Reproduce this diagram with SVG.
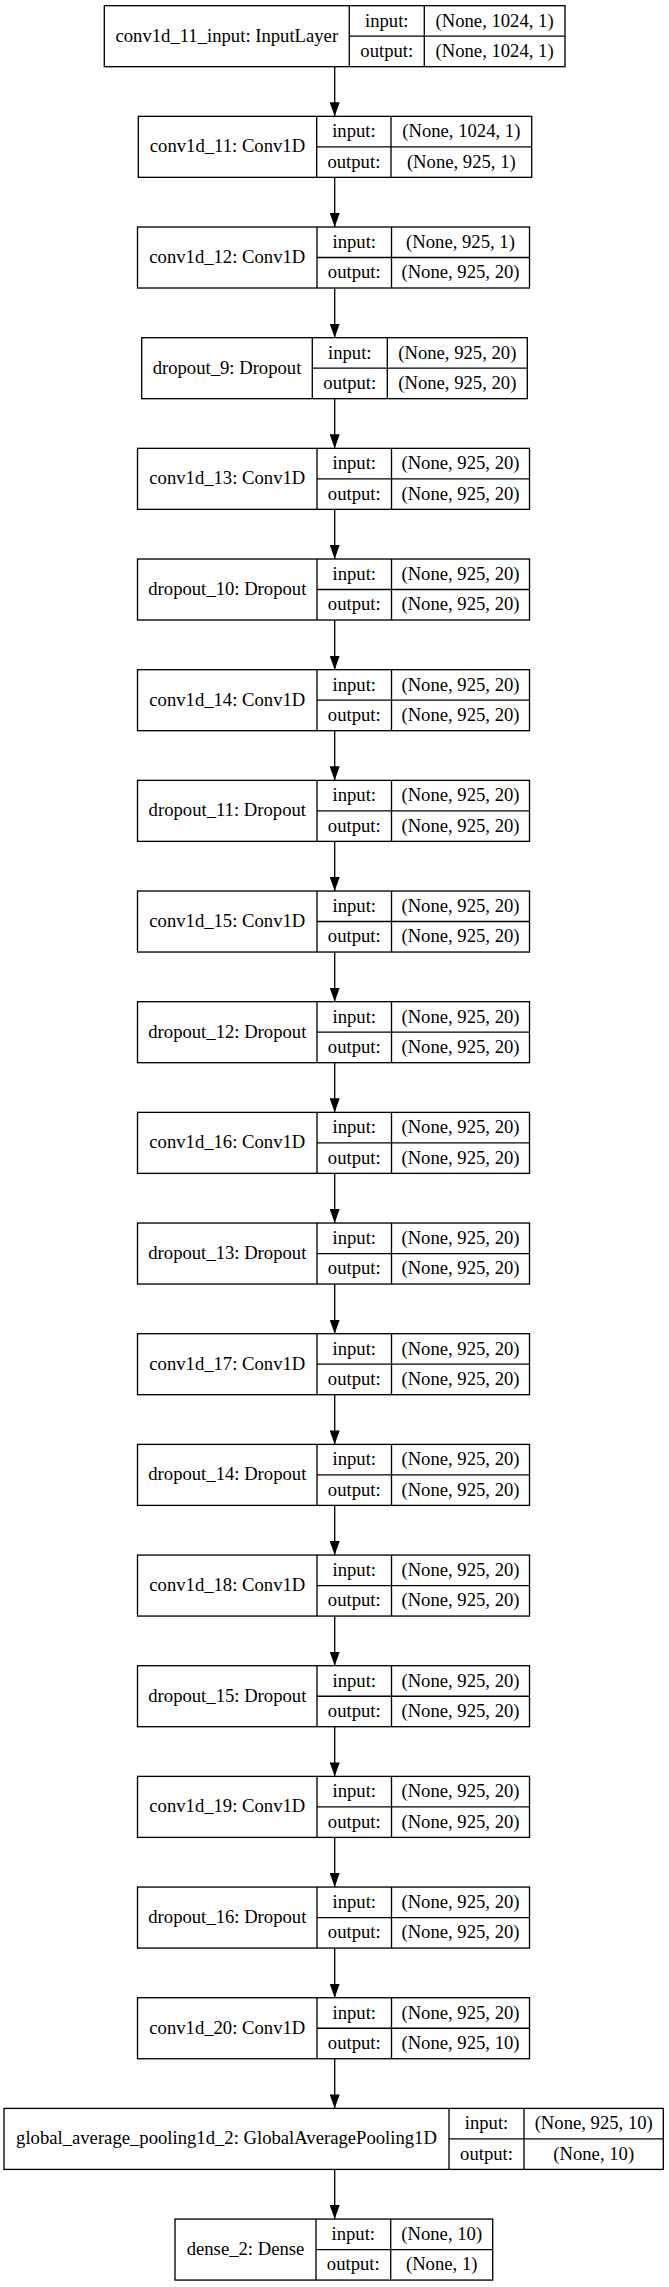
<svg xmlns="http://www.w3.org/2000/svg" width="669" height="2287" viewBox="0 0 669 2287">
<style>
rect.box{fill:#ffffff;stroke:#000000;stroke-width:1.33}
line.div{stroke:#000000;stroke-width:1.33}
text{font-family:"Liberation Serif","Times New Roman",serif;font-size:18.67px;fill:#000000;text-anchor:middle}
.edge{stroke:#000000;stroke-width:1.33;fill:none;marker-end:url(#arr)}
</style>
<defs>
<marker id="arr" markerUnits="userSpaceOnUse" viewBox="0 0 14 10" refX="14" refY="5" markerWidth="14" markerHeight="10" orient="auto">
<path d="M0,0 L14,5 L0,10 z" fill="#000000"/>
</marker>
</defs>
<rect width="669" height="2287" fill="#ffffff"/>
<g id="connectors">
<line class="edge" x1="334.7" y1="66.67" x2="334.7" y2="116.34"/>
<line class="edge" x1="334.7" y1="177.34" x2="334.7" y2="227.01"/>
<line class="edge" x1="334.7" y1="288.01" x2="334.7" y2="337.68"/>
<line class="edge" x1="334.7" y1="398.68" x2="334.7" y2="448.35"/>
<line class="edge" x1="334.7" y1="509.35" x2="334.7" y2="559.02"/>
<line class="edge" x1="334.7" y1="620.02" x2="334.7" y2="669.69"/>
<line class="edge" x1="334.7" y1="730.69" x2="334.7" y2="780.36"/>
<line class="edge" x1="334.7" y1="841.36" x2="334.7" y2="891.03"/>
<line class="edge" x1="334.7" y1="952.03" x2="334.7" y2="1001.70"/>
<line class="edge" x1="334.7" y1="1062.70" x2="334.7" y2="1112.37"/>
<line class="edge" x1="334.7" y1="1173.37" x2="334.7" y2="1223.04"/>
<line class="edge" x1="334.7" y1="1284.04" x2="334.7" y2="1333.71"/>
<line class="edge" x1="334.7" y1="1394.71" x2="334.7" y2="1444.38"/>
<line class="edge" x1="334.7" y1="1505.38" x2="334.7" y2="1555.05"/>
<line class="edge" x1="334.7" y1="1616.05" x2="334.7" y2="1665.72"/>
<line class="edge" x1="334.7" y1="1726.72" x2="334.7" y2="1776.39"/>
<line class="edge" x1="334.7" y1="1837.39" x2="334.7" y2="1887.06"/>
<line class="edge" x1="334.7" y1="1948.06" x2="334.7" y2="1997.73"/>
<line class="edge" x1="334.7" y1="2058.73" x2="334.7" y2="2108.40"/>
<line class="edge" x1="334.7" y1="2169.40" x2="334.7" y2="2219.07"/>
</g>

<g id="conv1d_11_input" transform="translate(0,5.67)">
<rect class="box" x="104.3" y="0" width="460.7" height="61"/>
<line class="div" x1="349.3" y1="0" x2="349.3" y2="61"/>
<line class="div" x1="424.3" y1="0" x2="424.3" y2="61"/>
<line class="div" x1="349.3" y1="30.5" x2="565" y2="30.5"/>
<text x="226.8" y="36.1">conv1d_11_input: InputLayer</text>
<text x="386.8" y="20.9">input:</text>
<text x="386.8" y="51.4">output:</text>
<text x="494.6" y="20.9">(None, 1024, 1)</text>
<text x="494.6" y="51.4">(None, 1024, 1)</text>
</g>

<g id="conv1d_11" transform="translate(0,116.34)">
<rect class="box" x="138.3" y="0" width="393.4" height="61"/>
<line class="div" x1="316.7" y1="0" x2="316.7" y2="61"/>
<line class="div" x1="391" y1="0" x2="391" y2="61"/>
<line class="div" x1="316.7" y1="30.5" x2="531.7" y2="30.5"/>
<text x="227.5" y="36.1">conv1d_11: Conv1D</text>
<text x="353.9" y="20.9">input:</text>
<text x="353.9" y="51.4">output:</text>
<text x="461.3" y="20.9">(None, 1024, 1)</text>
<text x="461.3" y="51.4">(None, 925, 1)</text>
</g>

<g id="conv1d_12" transform="translate(0,227.01)">
<rect class="box" x="137.5" y="0" width="392" height="61"/>
<line class="div" x1="317" y1="0" x2="317" y2="61"/>
<line class="div" x1="391.5" y1="0" x2="391.5" y2="61"/>
<line class="div" x1="317" y1="30.5" x2="529.5" y2="30.5"/>
<text x="227.3" y="36.1">conv1d_12: Conv1D</text>
<text x="354.3" y="20.9">input:</text>
<text x="354.3" y="51.4">output:</text>
<text x="460.5" y="20.9">(None, 925, 1)</text>
<text x="460.5" y="51.4">(None, 925, 20)</text>
</g>

<g id="dropout_9" transform="translate(0,337.68)">
<rect class="box" x="141.7" y="0" width="385.6" height="61"/>
<line class="div" x1="312.3" y1="0" x2="312.3" y2="61"/>
<line class="div" x1="387.3" y1="0" x2="387.3" y2="61"/>
<line class="div" x1="312.3" y1="30.5" x2="527.3" y2="30.5"/>
<text x="227" y="36.1">dropout_9: Dropout</text>
<text x="349.8" y="20.9">input:</text>
<text x="349.8" y="51.4">output:</text>
<text x="457.3" y="20.9">(None, 925, 20)</text>
<text x="457.3" y="51.4">(None, 925, 20)</text>
</g>

<g id="conv1d_13" transform="translate(0,448.35)">
<rect class="box" x="137.5" y="0" width="392" height="61"/>
<line class="div" x1="317" y1="0" x2="317" y2="61"/>
<line class="div" x1="391.5" y1="0" x2="391.5" y2="61"/>
<line class="div" x1="317" y1="30.5" x2="529.5" y2="30.5"/>
<text x="227.3" y="36.1">conv1d_13: Conv1D</text>
<text x="354.3" y="20.9">input:</text>
<text x="354.3" y="51.4">output:</text>
<text x="460.5" y="20.9">(None, 925, 20)</text>
<text x="460.5" y="51.4">(None, 925, 20)</text>
</g>

<g id="dropout_10" transform="translate(0,559.02)">
<rect class="box" x="137.5" y="0" width="392" height="61"/>
<line class="div" x1="317" y1="0" x2="317" y2="61"/>
<line class="div" x1="391.5" y1="0" x2="391.5" y2="61"/>
<line class="div" x1="317" y1="30.5" x2="529.5" y2="30.5"/>
<text x="227.3" y="36.1">dropout_10: Dropout</text>
<text x="354.3" y="20.9">input:</text>
<text x="354.3" y="51.4">output:</text>
<text x="460.5" y="20.9">(None, 925, 20)</text>
<text x="460.5" y="51.4">(None, 925, 20)</text>
</g>

<g id="conv1d_14" transform="translate(0,669.69)">
<rect class="box" x="137.5" y="0" width="392" height="61"/>
<line class="div" x1="317" y1="0" x2="317" y2="61"/>
<line class="div" x1="391.5" y1="0" x2="391.5" y2="61"/>
<line class="div" x1="317" y1="30.5" x2="529.5" y2="30.5"/>
<text x="227.3" y="36.1">conv1d_14: Conv1D</text>
<text x="354.3" y="20.9">input:</text>
<text x="354.3" y="51.4">output:</text>
<text x="460.5" y="20.9">(None, 925, 20)</text>
<text x="460.5" y="51.4">(None, 925, 20)</text>
</g>

<g id="dropout_11" transform="translate(0,780.36)">
<rect class="box" x="137.5" y="0" width="392" height="61"/>
<line class="div" x1="317" y1="0" x2="317" y2="61"/>
<line class="div" x1="391.5" y1="0" x2="391.5" y2="61"/>
<line class="div" x1="317" y1="30.5" x2="529.5" y2="30.5"/>
<text x="227.3" y="36.1">dropout_11: Dropout</text>
<text x="354.3" y="20.9">input:</text>
<text x="354.3" y="51.4">output:</text>
<text x="460.5" y="20.9">(None, 925, 20)</text>
<text x="460.5" y="51.4">(None, 925, 20)</text>
</g>

<g id="conv1d_15" transform="translate(0,891.03)">
<rect class="box" x="137.5" y="0" width="392" height="61"/>
<line class="div" x1="317" y1="0" x2="317" y2="61"/>
<line class="div" x1="391.5" y1="0" x2="391.5" y2="61"/>
<line class="div" x1="317" y1="30.5" x2="529.5" y2="30.5"/>
<text x="227.3" y="36.1">conv1d_15: Conv1D</text>
<text x="354.3" y="20.9">input:</text>
<text x="354.3" y="51.4">output:</text>
<text x="460.5" y="20.9">(None, 925, 20)</text>
<text x="460.5" y="51.4">(None, 925, 20)</text>
</g>

<g id="dropout_12" transform="translate(0,1001.70)">
<rect class="box" x="137.5" y="0" width="392" height="61"/>
<line class="div" x1="317" y1="0" x2="317" y2="61"/>
<line class="div" x1="391.5" y1="0" x2="391.5" y2="61"/>
<line class="div" x1="317" y1="30.5" x2="529.5" y2="30.5"/>
<text x="227.3" y="36.1">dropout_12: Dropout</text>
<text x="354.3" y="20.9">input:</text>
<text x="354.3" y="51.4">output:</text>
<text x="460.5" y="20.9">(None, 925, 20)</text>
<text x="460.5" y="51.4">(None, 925, 20)</text>
</g>

<g id="conv1d_16" transform="translate(0,1112.37)">
<rect class="box" x="137.5" y="0" width="392" height="61"/>
<line class="div" x1="317" y1="0" x2="317" y2="61"/>
<line class="div" x1="391.5" y1="0" x2="391.5" y2="61"/>
<line class="div" x1="317" y1="30.5" x2="529.5" y2="30.5"/>
<text x="227.3" y="36.1">conv1d_16: Conv1D</text>
<text x="354.3" y="20.9">input:</text>
<text x="354.3" y="51.4">output:</text>
<text x="460.5" y="20.9">(None, 925, 20)</text>
<text x="460.5" y="51.4">(None, 925, 20)</text>
</g>

<g id="dropout_13" transform="translate(0,1223.04)">
<rect class="box" x="137.5" y="0" width="392" height="61"/>
<line class="div" x1="317" y1="0" x2="317" y2="61"/>
<line class="div" x1="391.5" y1="0" x2="391.5" y2="61"/>
<line class="div" x1="317" y1="30.5" x2="529.5" y2="30.5"/>
<text x="227.3" y="36.1">dropout_13: Dropout</text>
<text x="354.3" y="20.9">input:</text>
<text x="354.3" y="51.4">output:</text>
<text x="460.5" y="20.9">(None, 925, 20)</text>
<text x="460.5" y="51.4">(None, 925, 20)</text>
</g>

<g id="conv1d_17" transform="translate(0,1333.71)">
<rect class="box" x="137.5" y="0" width="392" height="61"/>
<line class="div" x1="317" y1="0" x2="317" y2="61"/>
<line class="div" x1="391.5" y1="0" x2="391.5" y2="61"/>
<line class="div" x1="317" y1="30.5" x2="529.5" y2="30.5"/>
<text x="227.3" y="36.1">conv1d_17: Conv1D</text>
<text x="354.3" y="20.9">input:</text>
<text x="354.3" y="51.4">output:</text>
<text x="460.5" y="20.9">(None, 925, 20)</text>
<text x="460.5" y="51.4">(None, 925, 20)</text>
</g>

<g id="dropout_14" transform="translate(0,1444.38)">
<rect class="box" x="137.5" y="0" width="392" height="61"/>
<line class="div" x1="317" y1="0" x2="317" y2="61"/>
<line class="div" x1="391.5" y1="0" x2="391.5" y2="61"/>
<line class="div" x1="317" y1="30.5" x2="529.5" y2="30.5"/>
<text x="227.3" y="36.1">dropout_14: Dropout</text>
<text x="354.3" y="20.9">input:</text>
<text x="354.3" y="51.4">output:</text>
<text x="460.5" y="20.9">(None, 925, 20)</text>
<text x="460.5" y="51.4">(None, 925, 20)</text>
</g>

<g id="conv1d_18" transform="translate(0,1555.05)">
<rect class="box" x="137.5" y="0" width="392" height="61"/>
<line class="div" x1="317" y1="0" x2="317" y2="61"/>
<line class="div" x1="391.5" y1="0" x2="391.5" y2="61"/>
<line class="div" x1="317" y1="30.5" x2="529.5" y2="30.5"/>
<text x="227.3" y="36.1">conv1d_18: Conv1D</text>
<text x="354.3" y="20.9">input:</text>
<text x="354.3" y="51.4">output:</text>
<text x="460.5" y="20.9">(None, 925, 20)</text>
<text x="460.5" y="51.4">(None, 925, 20)</text>
</g>

<g id="dropout_15" transform="translate(0,1665.72)">
<rect class="box" x="137.5" y="0" width="392" height="61"/>
<line class="div" x1="317" y1="0" x2="317" y2="61"/>
<line class="div" x1="391.5" y1="0" x2="391.5" y2="61"/>
<line class="div" x1="317" y1="30.5" x2="529.5" y2="30.5"/>
<text x="227.3" y="36.1">dropout_15: Dropout</text>
<text x="354.3" y="20.9">input:</text>
<text x="354.3" y="51.4">output:</text>
<text x="460.5" y="20.9">(None, 925, 20)</text>
<text x="460.5" y="51.4">(None, 925, 20)</text>
</g>

<g id="conv1d_19" transform="translate(0,1776.39)">
<rect class="box" x="137.5" y="0" width="392" height="61"/>
<line class="div" x1="317" y1="0" x2="317" y2="61"/>
<line class="div" x1="391.5" y1="0" x2="391.5" y2="61"/>
<line class="div" x1="317" y1="30.5" x2="529.5" y2="30.5"/>
<text x="227.3" y="36.1">conv1d_19: Conv1D</text>
<text x="354.3" y="20.9">input:</text>
<text x="354.3" y="51.4">output:</text>
<text x="460.5" y="20.9">(None, 925, 20)</text>
<text x="460.5" y="51.4">(None, 925, 20)</text>
</g>

<g id="dropout_16" transform="translate(0,1887.06)">
<rect class="box" x="137.5" y="0" width="392" height="61"/>
<line class="div" x1="317" y1="0" x2="317" y2="61"/>
<line class="div" x1="391.5" y1="0" x2="391.5" y2="61"/>
<line class="div" x1="317" y1="30.5" x2="529.5" y2="30.5"/>
<text x="227.3" y="36.1">dropout_16: Dropout</text>
<text x="354.3" y="20.9">input:</text>
<text x="354.3" y="51.4">output:</text>
<text x="460.5" y="20.9">(None, 925, 20)</text>
<text x="460.5" y="51.4">(None, 925, 20)</text>
</g>

<g id="conv1d_20" transform="translate(0,1997.73)">
<rect class="box" x="137.5" y="0" width="392" height="61"/>
<line class="div" x1="317" y1="0" x2="317" y2="61"/>
<line class="div" x1="391.5" y1="0" x2="391.5" y2="61"/>
<line class="div" x1="317" y1="30.5" x2="529.5" y2="30.5"/>
<text x="227.3" y="36.1">conv1d_20: Conv1D</text>
<text x="354.3" y="20.9">input:</text>
<text x="354.3" y="51.4">output:</text>
<text x="460.5" y="20.9">(None, 925, 20)</text>
<text x="460.5" y="51.4">(None, 925, 10)</text>
</g>

<g id="global_average_pooling1d_2" transform="translate(0,2108.40)">
<rect class="box" x="4" y="0" width="659.3" height="61"/>
<line class="div" x1="449" y1="0" x2="449" y2="61"/>
<line class="div" x1="524" y1="0" x2="524" y2="61"/>
<line class="div" x1="449" y1="30.5" x2="663.3" y2="30.5"/>
<text x="226.5" y="36.1">global_average_pooling1d_2: GlobalAveragePooling1D</text>
<text x="486.5" y="20.9">input:</text>
<text x="486.5" y="51.4">output:</text>
<text x="593.7" y="20.9">(None, 925, 10)</text>
<text x="593.7" y="51.4">(None, 10)</text>
</g>

<g id="dense_2" transform="translate(0,2219.07)">
<rect class="box" x="175" y="0" width="317.7" height="61"/>
<line class="div" x1="316" y1="0" x2="316" y2="61"/>
<line class="div" x1="390.7" y1="0" x2="390.7" y2="61"/>
<line class="div" x1="316" y1="30.5" x2="492.7" y2="30.5"/>
<text x="245.5" y="36.1">dense_2: Dense</text>
<text x="353.3" y="20.9">input:</text>
<text x="353.3" y="51.4">output:</text>
<text x="441.7" y="20.9">(None, 10)</text>
<text x="441.7" y="51.4">(None, 1)</text>
</g>
</svg>
